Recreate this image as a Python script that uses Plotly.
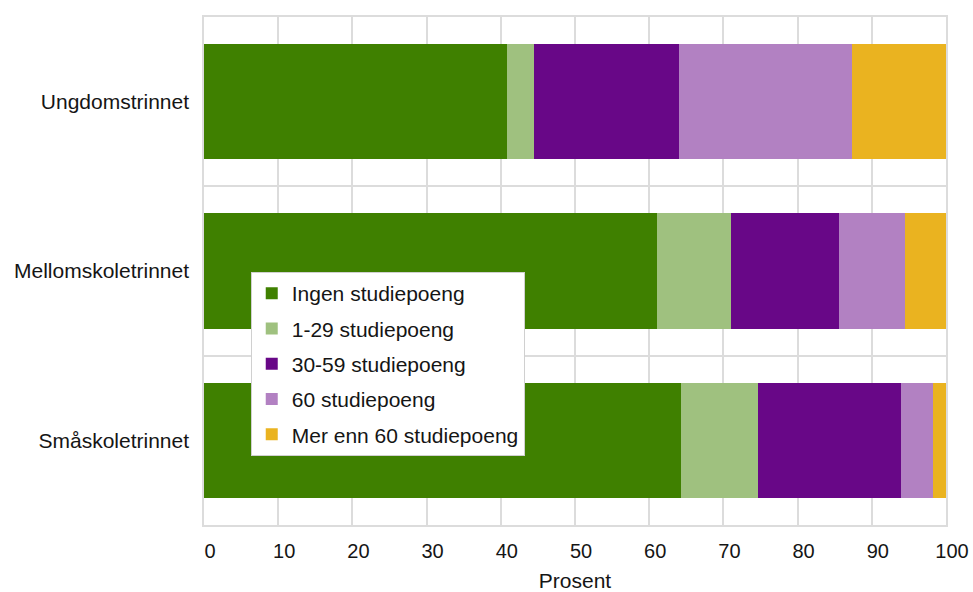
import plotly.graph_objects as go

categories = ["Småskoletrinnet", "Mellomskoletrinnet", "Ungdomstrinnet"]
series_names = ["Ingen studiepoeng", "1-29 studiepoeng", "30-59 studiepoeng",
                "60 studiepoeng", "Mer enn 60 studiepoeng"]
ingen = [64.3, 61.0, 40.8]
s1_29 = [10.3, 10.0, 3.7]
s30_59 = [19.3, 14.6, 19.5]
s60 = [4.4, 8.9, 23.3]
mer60 = [1.7, 5.5, 12.7]
series_values = [ingen, s1_29, s30_59, s60, mer60]
colors = ["#3f8000", "#9fc17f", "#680787", "#b281c2", "#eab320"]
x_ticks = [0, 10, 20, 30, 40, 50, 60, 70, 80, 90, 100]

fig = go.Figure()
for i, (name, vals, col) in enumerate(zip(series_names, series_values, colors)):
    fig.add_trace(go.Bar(
        y=categories, x=vals, name=name, orientation="h",
        marker=dict(color=col, line=dict(width=0)),
        legendgroup=f"g{i}",
    ))

font = "Liberation Sans, Arial, sans-serif"
txt = "#151515"
fig.update_layout(
    barmode="stack",
    bargap=0.32,
    width=973, height=592,
    margin=dict(l=204, r=27, t=17, b=67, autoexpand=False),
    plot_bgcolor="white", paper_bgcolor="white",
    font=dict(family=font, size=20, color=txt),
    legend=dict(
        x=0.063, y=0.498, xanchor="left", yanchor="top",
        bgcolor="white", bordercolor="#d0d0d0", borderwidth=1,
        font=dict(size=21, color=txt),
        traceorder="grouped", tracegroupgap=5,
        itemwidth=30,
    ),
    xaxis=dict(
        range=[0, 100], tickvals=x_ticks, ticks="",
        showgrid=True, gridcolor="#dcdcdc", gridwidth=1.5,
        showline=True, linecolor="#dcdcdc", linewidth=1.5, mirror=True,
        zeroline=False,
        tickfont=dict(size=20),
        title=dict(text="Prosent", font=dict(size=21), standoff=15),
        ticklabelshift=6, ticklabelstandoff=7,
        automargin=False,
    ),
    yaxis=dict(
        type="category", categoryorder="array", categoryarray=categories,
        tickson="boundaries", ticks="",
        showgrid=True, gridcolor="#dcdcdc", gridwidth=1.5,
        showline=True, linecolor="#dcdcdc", linewidth=1.5, mirror=True,
        ticklabelstandoff=9,
        tickfont=dict(size=21),
        automargin=False,
    ),
)

fig.write_html("out.html",
               config={"displayModeBar": False},
               post_script="document.body.style.margin='0';document.body.style.overflow='hidden';")
